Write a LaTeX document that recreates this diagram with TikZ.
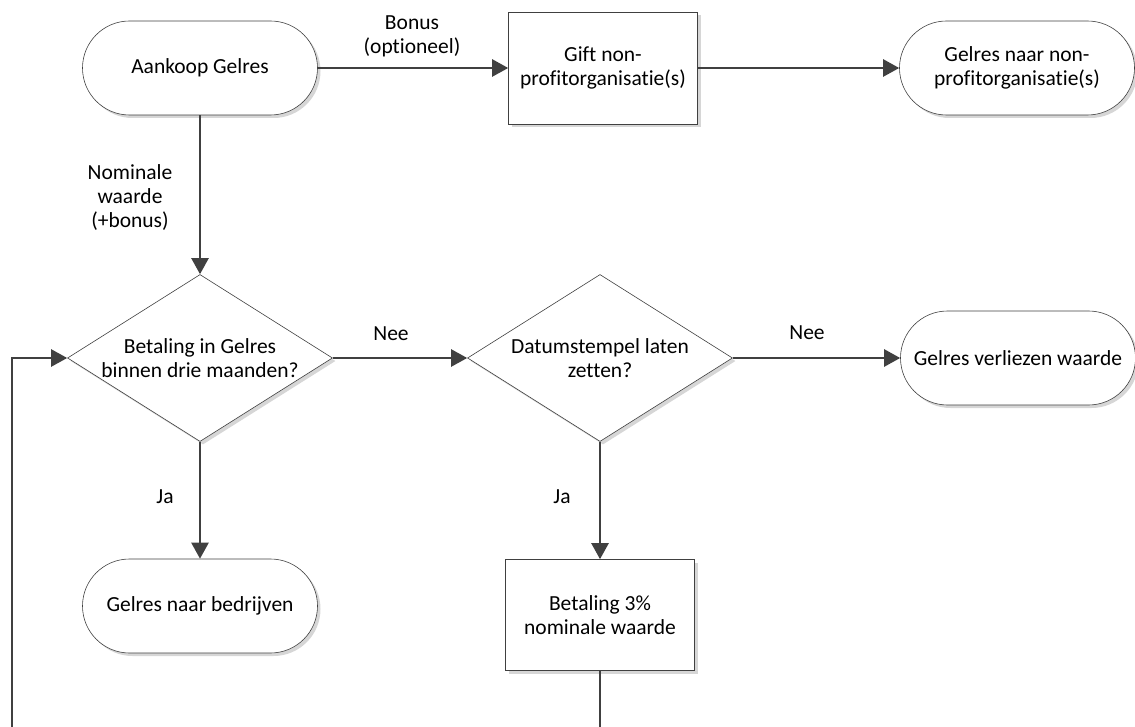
\documentclass[tikz,border=0pt]{standalone}
\usepackage{fontspec}
\setmainfont{Carlito}[Ligatures={NoCommon,NoContextual}]
\usetikzlibrary{arrows.meta,shapes.geometric,shadows}

\begin{document}
\begin{tikzpicture}[x=1pt,y=1pt,yscale=-1,
  every node/.style={font=\fontsize{21.5}{24}\selectfont, align=center},
  boxshadow/.style={drop shadow={shadow xshift=3pt, shadow yshift=-3pt, fill=black!16, opacity=1}},
  terminal/.style={draw=black!75, line width=0.6pt, fill=white, rounded corners=47pt,
    minimum width=235pt, minimum height=94pt, inner sep=0pt, boxshadow},
  process/.style={draw=black!75, line width=0.6pt, fill=white,
    minimum width=189pt, minimum height=112pt, inner sep=0pt, boxshadow},
  decision/.style={diamond, draw=black!75, line width=0.6pt, fill=white, aspect=1.59,
    minimum width=265pt, minimum height=167pt, inner sep=0pt, boxshadow},
  flow/.style={draw=black!75, line width=2.4pt, -{Triangle[length=16pt,width=17pt]}},
  lbl/.style={inner sep=0pt}]

% --- FRAME ---
\clip (0,0) rectangle (1135,727);

% --- TOP ROW ---
\node[terminal] (buy)  at (200,68)  {Aankoop Gelres};
\node[process]  (gift) at (603,68)  {Gift non-\\profitorganisatie(s)};
\node[terminal] (npo)  at (1017,68) {Gelres naar non-\\profitorganisatie(s)};

% --- DECISIONS ---
\node[decision] (q1) at (200,358) {Betaling in Gelres\\binnen drie maanden?};
\node[decision] (q2) at (600,358) {Datumstempel laten\\zetten?};
\node[terminal] (lost) at (1018,358) {Gelres verliezen waarde};

% --- BOTTOM ROW ---
\node[terminal] (firm) at (200,606) {Gelres naar bedrijven};
\node[process, minimum height=111pt] (pay) at (600,615) {Betaling 3\%\\nominale waarde};

% --- CONNECTORS ---
\draw[flow] (buy) -- (gift);
\draw[flow] (gift) -- (npo);
\draw[flow] (buy) -- (q1);
\draw[flow] (q1) -- (q2);
\draw[flow] (q2) -- (lost);
\draw[flow] (q1) -- (firm);
\draw[flow] (q2) -- (pay);

% loop back, runs off the bottom edge
\coordinate (loop) at (12,745);
\draw[flow] (pay.south) |- (loop) |- (q1.west);

% --- LABELS ---
\node[lbl] (lbonus) at (412,36)  {Bonus\\(optioneel)};
\node[lbl] (lnom)   at (130,198) {Nominale\\waarde\\(+bonus)};
\node[lbl] (lnee1)  at (391,334) {Nee};
\node[lbl] (lnee2)  at (807,333) {Nee};
\node[lbl] (lja1)   at (165,497) {Ja};
\node[lbl] (lja2)   at (562,497) {Ja};

\end{tikzpicture}
\end{document}
